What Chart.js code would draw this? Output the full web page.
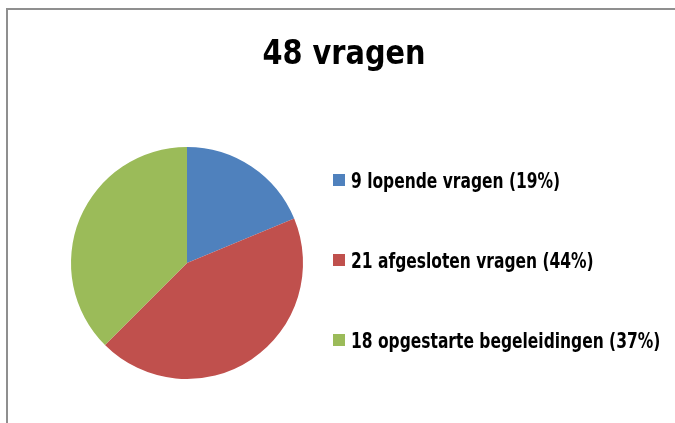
<!DOCTYPE html>
<html>
<head>
<meta charset="utf-8">
<script src="https://cdn.jsdelivr.net/npm/chart.js@4"></script>
<style>
  html, body { margin: 0; padding: 0; background: #fff; }
  #wrap { position: relative; width: 675px; height: 423px; overflow: hidden; }
  #frame {
    position: absolute; left: 6px; top: 8px; width: 720px; height: 460px;
    border: 2px solid #8f8f8f; box-sizing: border-box;
  }
  canvas { position: absolute; left: 0; top: 0; }
</style>
</head>
<body>
<div id="wrap">
  <div id="frame"></div>
  <canvas id="pie" width="675" height="423"></canvas>
</div>
<script>
const chartTitle = '48 vragen';
const categories = ['9 lopende vragen (19%)', '21 afgesloten vragen (44%)', '18 opgestarte begeleidingen (37%)'];
const values = [9, 21, 18];
const colors = ['#4f81bd', '#c0504d', '#9bbb59'];

// title + legend are drawn by hand so they land where the original has them
const sideText = {
  id: 'sideText',
  afterDraw(chart) {
    const ctx = chart.ctx;
    ctx.save();
    ctx.fillStyle = '#000';
    ctx.textBaseline = 'alphabetic';
    ctx.textAlign = 'center';
    ctx.font = 'bold 33px "DejaVu Sans Condensed", sans-serif';
    ctx.save();
    ctx.translate(344, 64);
    ctx.scale(0.97, 1);
    ctx.fillText(chartTitle, 0, 0);
    ctx.restore();

    ctx.textAlign = 'left';
    ctx.font = 'bold 21px "DejaVu Sans Condensed", sans-serif';
    chart.data.labels.forEach((label, i) => {
      const y = 188 + i * 80;
      ctx.fillStyle = chart.data.datasets[0].backgroundColor[i];
      ctx.fillRect(333, y - 14, 12, 12);
      ctx.fillStyle = '#000';
      ctx.save();
      ctx.translate(351, y);
      ctx.scale(0.82, 1); // original face is narrower than DejaVu Condensed
      ctx.fillText(label, 0, 0);
      ctx.restore();
    });
    ctx.restore();
  }
};

new Chart(document.getElementById('pie'), {
  type: 'pie',
  data: {
    labels: categories,
    datasets: [{
      data: values,
      backgroundColor: colors,
      borderWidth: 0
    }]
  },
  options: {
    responsive: false,
    animation: false,
    layout: { padding: { top: 147, bottom: 44, left: 71, right: 372 } },
    plugins: {
      legend: { display: false },
      title: { display: false },
      tooltip: { enabled: false }
    }
  },
  plugins: [sideText]
});
</script>
</body>
</html>
